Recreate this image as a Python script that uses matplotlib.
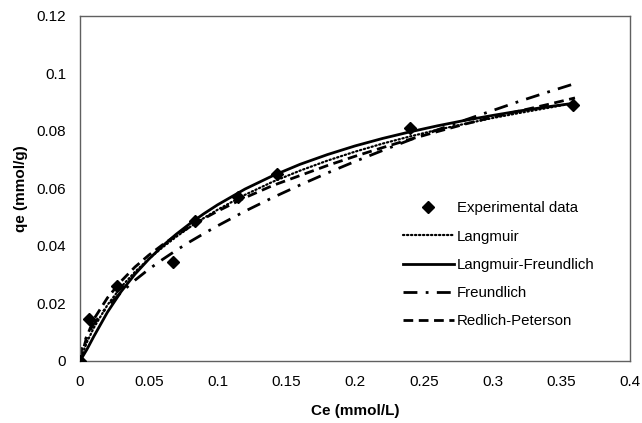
import matplotlib
matplotlib.use("Agg")
import matplotlib.pyplot as plt

plt.rcParams['font.family'] = ['Liberation Sans', 'DejaVu Sans']

# experimental points
ce_exp = [0.0, 0.0065, 0.027, 0.0676, 0.0836, 0.115, 0.143, 0.240, 0.3585]
qe_exp = [0.0, 0.0146, 0.026, 0.0346, 0.0486, 0.0572, 0.0652, 0.0812, 0.0892]

# model curves
ce_fit = [0.0, 0.005, 0.01, 0.02, 0.03, 0.04, 0.05, 0.06, 0.07, 0.08, 0.09, 0.1,
          0.12, 0.14, 0.16, 0.18, 0.2, 0.22, 0.24, 0.26, 0.28, 0.3, 0.32, 0.34, 0.36]
q_langmuir = [0.0, 0.0065, 0.0115, 0.0195, 0.0258, 0.0310, 0.0355, 0.0395, 0.0432,
              0.0466, 0.0497, 0.0526, 0.0578, 0.0623, 0.0662, 0.0697, 0.0728, 0.0756,
              0.0781, 0.0804, 0.0825, 0.0845, 0.0863, 0.0880, 0.0898]
q_lf = [0.0, 0.0040, 0.0085, 0.0170, 0.0242, 0.0302, 0.0354, 0.0400, 0.0441, 0.0478,
        0.0512, 0.0543, 0.0598, 0.0644, 0.0684, 0.0718, 0.0748, 0.0774, 0.0797,
        0.0818, 0.0837, 0.0854, 0.0870, 0.0884, 0.0897]
q_rp = [0.0, 0.0085, 0.0145, 0.0220, 0.0278, 0.0327, 0.0368, 0.0404, 0.0437, 0.0467,
        0.0495, 0.0521, 0.0568, 0.0610, 0.0645, 0.0680, 0.0712, 0.0742, 0.0771,
        0.0798, 0.0824, 0.0848, 0.0870, 0.0892, 0.0915]
ce_fr = [0.0, 0.001] + ce_fit[1:]
q_fr = [0.0, 0.0036, 0.0088, 0.0129, 0.0191, 0.0239, 0.0281, 0.0319, 0.0353, 0.0385,
        0.0415, 0.0443, 0.0470, 0.0521, 0.0568, 0.0612, 0.0654, 0.0694, 0.0732,
        0.0769, 0.0804, 0.0838, 0.0871, 0.0904, 0.0935, 0.0965]

fig = plt.figure(figsize=(6.42, 4.23), dpi=100)
ax = fig.add_axes([0.1246, 0.1466, 0.8567, 0.8156])

ax.plot(ce_exp, qe_exp, 'D', color='black', ms=6, label='Experimental data', zorder=5)
ax.plot(ce_fit, q_langmuir, color='black', lw=1.6, linestyle=(0, (0.6, 1.2)),
        dash_capstyle='round', label='Langmuir')
ax.plot(ce_fit, q_lf, color='black', lw=2.0, label='Langmuir-Freundlich')
ax.plot(ce_fr, q_fr, color='black', lw=2.0, linestyle=(0, (5, 3, 1, 3)),
        label='Freundlich')
ax.plot(ce_fit, q_rp, color='black', lw=2.0, linestyle=(0, (3.5, 2)),
        label='Redlich-Peterson')

ax.set_xlim(0, 0.4)
ax.set_ylim(0, 0.12)
ax.set_xticks([0, 0.05, 0.1, 0.15, 0.2, 0.25, 0.3, 0.35, 0.4])
ax.set_xticklabels(['0', '0.05', '0.1', '0.15', '0.2', '0.25', '0.3', '0.35', '0.4'])
ax.set_yticks([0, 0.02, 0.04, 0.06, 0.08, 0.1, 0.12])
ax.set_yticklabels(['0', '0.02', '0.04', '0.06', '0.08', '0.1', '0.12'])
ax.tick_params(length=0, labelsize=11, pad=10)
for s in ax.spines.values():
    s.set_color('#606060')
    s.set_linewidth(1)

ax.set_xlabel('Ce (mmol/L)', fontsize=11, fontweight='bold', labelpad=11)
ax.set_ylabel('qe (mmol/g)', fontsize=11, fontweight='bold', labelpad=6)

ax.legend(loc='upper left', bbox_to_anchor=(0.562, 0.502), frameon=False,
          fontsize=10.8, handlelength=3.4, handletextpad=0.2, labelspacing=0.95)

fig.savefig('out.png', dpi=100)
